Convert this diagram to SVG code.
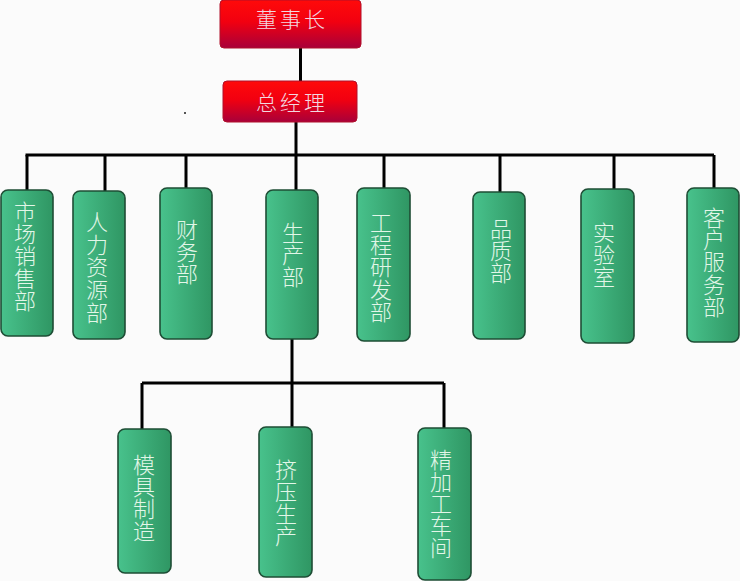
<svg xmlns="http://www.w3.org/2000/svg" width="740" height="581" viewBox="0 0 740 581">
<defs>
<linearGradient id="red" x1="0" y1="0" x2="0" y2="1">
<stop offset="0" stop-color="#ff0a0a"/>
<stop offset="0.45" stop-color="#f20010"/>
<stop offset="1" stop-color="#a8003a"/>
</linearGradient>
<linearGradient id="green" x1="0" y1="0" x2="1" y2="0">
<stop offset="0" stop-color="#48c28c"/>
<stop offset="1" stop-color="#2f9663"/>
</linearGradient>
</defs>
<style>
.red{fill:url(#red);stroke:#b0102a;stroke-width:1}
.grn{fill:url(#green);stroke:#1e4d35;stroke-width:1.6}
.lk{fill:none;stroke:#000;stroke-width:3}
.tt{font-family:"Noto Sans CJK SC","Noto Sans",sans-serif;font-size:21px;font-weight:300;fill:#f2d8e0;text-anchor:middle;letter-spacing:3px}
.gt{font-family:"Noto Sans CJK SC","Noto Sans",sans-serif;font-size:22px;font-weight:300;fill:#e2f6e8;writing-mode:vertical-rl;text-anchor:start}
</style>
<rect width="740" height="581" fill="#fbfbfb"/>
<rect x="184" y="112" width="2" height="2" fill="#555"/>
<g id="connectors">
<path class="lk" d="M300.5 48V81"/>
<path class="lk" d="M296 122V155"/>
<path class="lk" d="M25.5 155H714"/>
<path class="lk" d="M27 155V190M105 155V191M186 155V188M296 155V190M384 155V188M500 155V192M614 155V189M714 155V188"/>
<path class="lk" d="M292 339V383M142 383H444M142 383V429M292 383V427M444 383V428"/>
</g>
<g id="n-dsz"><rect class="red" x="220" y="0" width="141" height="48" rx="4"/><text class="tt" x="292" y="27">董事长</text></g>
<g id="n-zjl"><rect class="red" x="223" y="81" width="134" height="41" rx="4"/><text class="tt" x="292" y="110">总经理</text></g>
<g id="n-sc"><rect class="grn" x="1" y="190" width="52" height="146" rx="7"/><text class="gt" x="25" y="200.5" letter-spacing="0.25">市场销售部</text></g>
<g id="n-rl"><rect class="grn" x="73" y="191" width="52" height="148" rx="7"/><text class="gt" x="97" y="210.5" letter-spacing="0.7">人力资源部</text></g>
<g id="n-cw"><rect class="grn" x="160" y="188" width="52" height="151" rx="7"/><text class="gt" x="187" y="218.5">财务部</text></g>
<g id="n-sc2"><rect class="grn" x="266" y="190" width="52" height="149" rx="7"/><text class="gt" x="293" y="221.5">生产部</text></g>
<g id="n-gc"><rect class="grn" x="357" y="188" width="53" height="153" rx="7"/><text class="gt" x="381" y="211.5" letter-spacing="0.3">工程研发部</text></g>
<g id="n-pz"><rect class="grn" x="473" y="192" width="52" height="147" rx="7"/><text class="gt" x="501" y="217.5">品质部</text></g>
<g id="n-sys"><rect class="grn" x="581" y="189" width="53" height="154" rx="7"/><text class="gt" x="604" y="221.5">实验室</text></g>
<g id="n-kf"><rect class="grn" x="687" y="188" width="52" height="154" rx="7"/><text class="gt" x="714" y="206.5" letter-spacing="0.3">客户服务部</text></g>
<g id="n-mj"><rect class="grn" x="118" y="429" width="53" height="144" rx="7"/><text class="gt" x="144" y="453.5">模具制造</text></g>
<g id="n-jy"><rect class="grn" x="259" y="427" width="53" height="150" rx="7"/><text class="gt" x="286" y="458.5">挤压生产</text></g>
<g id="n-jjg"><rect class="grn" x="418" y="428" width="53" height="152" rx="7"/><text class="gt" x="441" y="448.5">精加工车间</text></g>
</svg>
